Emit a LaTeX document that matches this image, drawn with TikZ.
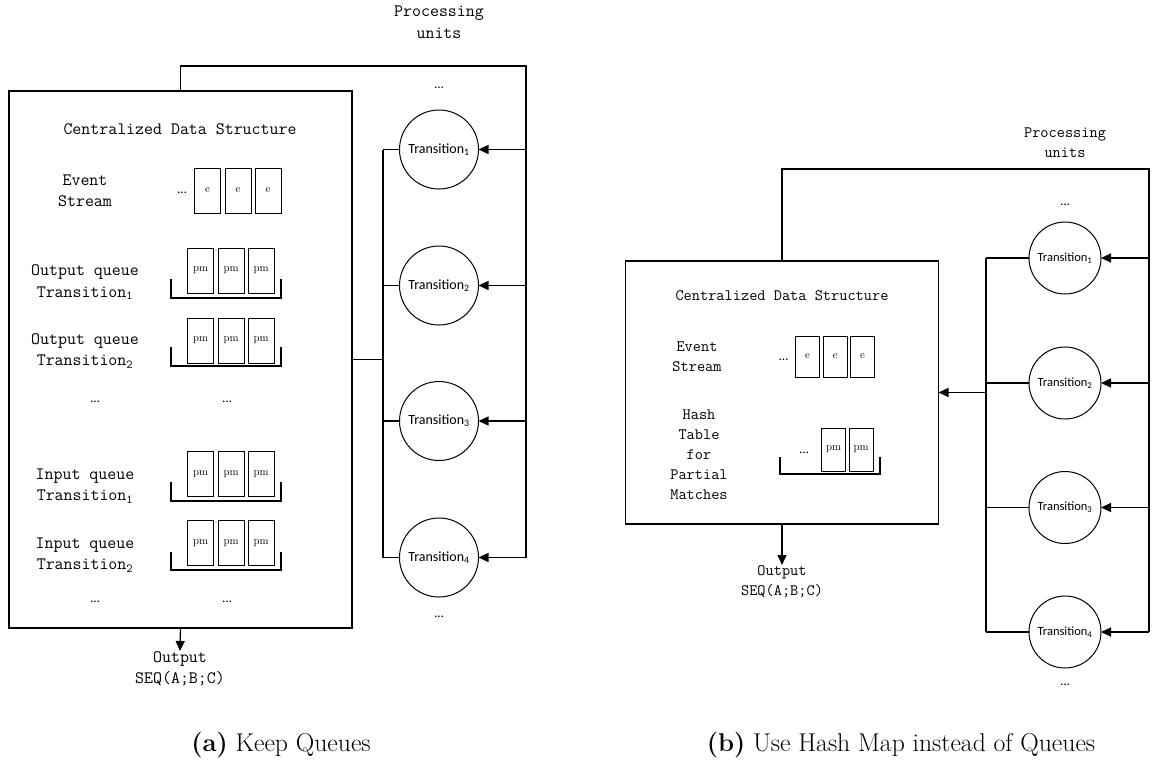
\documentclass[tikz,border=0pt]{standalone}
\usepackage{fontspec}
\newfontfamily\carl{Carlito}
\usetikzlibrary{arrows.meta}

\tikzset{
  panelbox/.style={draw, line width=1.6pt, inner sep=0pt, outer sep=0pt, anchor=north west},
  conn/.style={line width=1.3pt},
  arr/.style={conn, -{Triangle[length=10pt,width=9pt]}},
  unitA/.style={circle, draw, line width=1pt, minimum size=79pt, inner sep=0pt, outer sep=0pt,
    font=\carl\fontsize{14}{16}\selectfont},
  unitB/.style={unitA, minimum size=72pt, font=\carl\fontsize{12.5}{15}\selectfont},
  cellA/.style={draw, line width=1pt, inner sep=0pt, outer sep=0pt, minimum width=26pt,
    minimum height=45pt, font=\rmfamily\fontsize{11}{13}\selectfont},
  cellB/.style={cellA, minimum width=24pt},
  brk/.style={line width=1.4pt},
  lblA/.style={align=center, inner sep=0pt, font=\ttfamily\fontsize{17.4}{21.5}\selectfont},
  lblB/.style={align=center, inner sep=0pt, font=\ttfamily\fontsize{15.9}{20}\selectfont},
  dotsA/.style={inner sep=0pt, font=\carl\fontsize{13}{15}\selectfont},
  captext/.style={inner sep=0pt, font=\rmfamily\fontsize{25.7}{30}\selectfont},
}

\begin{document}
\begin{tikzpicture}[x=1pt, y=-1pt]
\useasboundingbox (0,0) rectangle (1152,764);

% ===================== (a) Keep Queues =====================
\node[panelbox, minimum width=343pt, minimum height=537pt] (cdsA) at (9,91) {};
\node[lblA] (titleA) at (180,129) {Centralized Data Structure};

% event stream
\node[lblA] (evA) at (85,191) {Event\\Stream};
\node[dotsA] (evdotsA) at (182,193) {\textellipsis};
\node[cellA] (eA1) at (207.5,190.5) {e};
\node[cellA] (eA2) at (238,190.5) {e};
\node[cellA] (eA3) at (268,190.5) {e};

% queues
\node[lblA] (oq1) at (85,282.5) {Output queue\\Transition\textsubscript{1}};
\node[lblA] (oq2) at (85,351) {Output queue\\Transition\textsubscript{2}};
\node[lblA] (iq1) at (85,486) {Input queue\\Transition\textsubscript{1}};
\node[lblA] (iq2) at (85,555) {Input queue\\Transition\textsubscript{2}};
\node[dotsA] (qdA1) at (95,402) {\textellipsis};
\node[dotsA] (qdA2) at (227,402) {\textellipsis};
\node[dotsA] (qdA3) at (95,602) {\textellipsis};
\node[dotsA] (qdA4) at (227,602) {\textellipsis};

\foreach \r/\y in {o1/270.5, o2/340.5, i1/474, i2/543}{
  \foreach \c/\x in {1/200.5, 2/231, 3/261}{
    \node[cellA] (pm\r\c) at (\x,\y) {pm};
  }
}
\foreach \t/\b in {279/298, 347/366, 482/501, 552/570}
  \draw[brk] (171,\t) |- (281,\b) -- (281,\t);

% processing units
\node[lblA] (puA) at (439,22) {Processing\\units};
\node[dotsA] (udA1) at (439,88) {\textellipsis};
\node[unitA] (tA1) at (439,149.5) {Transition\textsubscript{1}};
\node[unitA] (tA2) at (439,285.5) {Transition\textsubscript{2}};
\node[unitA] (tA3) at (439,421) {Transition\textsubscript{3}};
\node[unitA] (tA4) at (439,557.5) {Transition\textsubscript{4}};
\node[dotsA] (udA2) at (439,617) {\textellipsis};

% feedback loop and bus
\draw[conn] (cdsA.north) -- (cdsA.north |- 0,66) -- (526,66) coordinate (cornerA)
  -- (cornerA |- tA4.east);
\foreach \i in {1,...,4}
  \draw[arr] (cornerA |- tA\i.east) -- (tA\i.east);
\coordinate (busA) at (383,0);
\draw[conn] (busA |- tA1.west) -- (busA |- tA4.west);
\foreach \i in {1,...,4}
  \draw[conn] (busA |- tA\i.west) -- (tA\i.west);
\draw[conn] (cdsA.east) -- (busA |- cdsA.east);

% output
\node[lblA, anchor=north] (outA) at (180,651) {Output\\SEQ(A;B;C)};
\draw[arr] (cdsA.south) -- (outA.north);

\node[captext] (capA) at (281,745) {\textbf{(a)} Keep Queues};

% ===================== (b) Hash map =====================
\node[panelbox, minimum width=313pt, minimum height=263pt] (cdsB) at (625.5,261) {};
\node[lblB] (titleB) at (782,296) {Centralized Data Structure};

\node[lblB] (evB) at (697,357) {Event\\Stream};
\node[dotsA] (evdotsB) at (783.5,360) {\textellipsis};
\node[cellB, minimum height=41pt] (eB1) at (807.4,356.5) {e};
\node[cellB, minimum height=41pt] (eB2) at (835.3,356.5) {e};
\node[cellB, minimum height=41pt] (eB3) at (862.5,356.5) {e};

\node[lblB] (htB) at (699,455) {Hash\\Table\\for\\Partial\\Matches};
\node[dotsA] (pmdotsB) at (804,453) {\textellipsis};
\node[cellB, minimum height=43pt] (pmB1) at (833.5,449.5) {pm};
\node[cellB, minimum height=43pt] (pmB2) at (861,449.5) {pm};
\draw[brk] (780,457) |- (880,474) -- (880,457);

\node[lblB] (puB) at (1065,143) {Processing\\units};
\node[dotsA] (udB1) at (1065,205) {\textellipsis};
\node[unitB] (tB1) at (1065,258) {Transition\textsubscript{1}};
\node[unitB] (tB2) at (1065,383) {Transition\textsubscript{2}};
\node[unitB] (tB3) at (1065,507.5) {Transition\textsubscript{3}};
\node[unitB] (tB4) at (1065,632) {Transition\textsubscript{4}};
\node[dotsA] (udB2) at (1065,685) {\textellipsis};

\draw[conn] (cdsB.north) -- (cdsB.north |- 0,169) -- (1149,169) coordinate (cornerB)
  -- (cornerB |- tB4.east);
\foreach \i in {1,...,4}
  \draw[arr] (cornerB |- tB\i.east) -- (tB\i.east);
\coordinate (busB) at (986,0);
\draw[conn] (busB |- tB1.west) -- (busB |- tB4.west);
\foreach \i in {1,...,4}
  \draw[conn] (busB |- tB\i.west) -- (tB\i.west);
\draw[arr] (busB |- cdsB.east) -- (cdsB.east);

\node[lblB, anchor=north] (outB) at (782,565) {Output\\SEQ(A;B;C)};
\draw[arr] (cdsB.south) -- (outB.north);

\node[captext] (capB) at (901,745) {\textbf{(b)} Use Hash Map instead of Queues};
\end{tikzpicture}
\end{document}
